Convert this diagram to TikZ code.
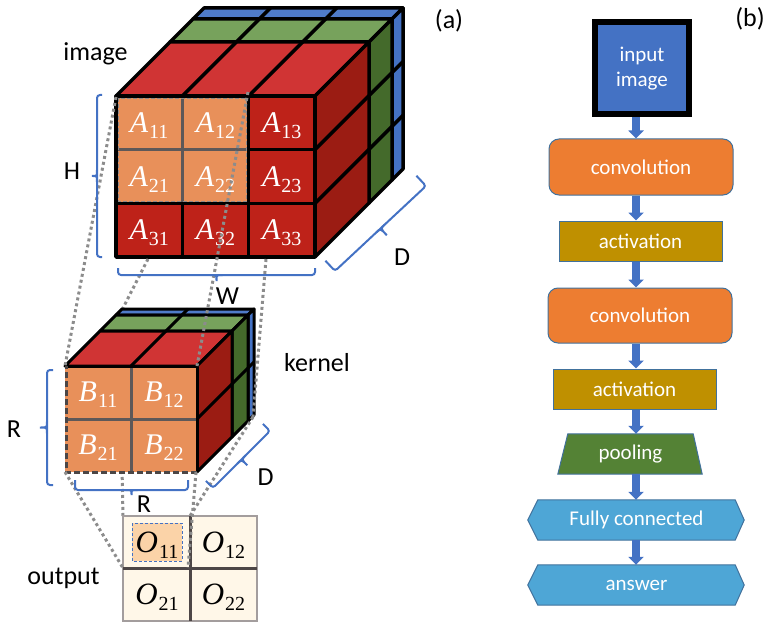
\documentclass[tikz,border=0pt]{standalone}
\usepackage{fontspec}
\setmainfont{Carlito}
\newfontfamily\symfont{Liberation Serif}
\usetikzlibrary{calc,arrows.meta}

\definecolor{redfront}{HTML}{BE2219}
\definecolor{redtop}{HTML}{D03434}
\definecolor{redside}{HTML}{9B1C13}
\definecolor{greentop}{HTML}{77A25C}
\definecolor{greenside}{HTML}{446A2B}
\definecolor{bluetop}{HTML}{4F7BC9}
\definecolor{blueside}{HTML}{4472C4}
\definecolor{cellorange}{HTML}{E8905A}
\definecolor{gridgrey}{HTML}{5E5858}
\definecolor{dotgrey}{HTML}{8C8C8C}
\definecolor{bracecol}{HTML}{4472C4}
\definecolor{outcell}{HTML}{FFF7E8}
\definecolor{outframe}{HTML}{A39D9D}
\definecolor{outrule}{HTML}{4D4646}
\definecolor{hilite}{HTML}{FBD3A8}
\definecolor{flowblue}{HTML}{4472C4}
\definecolor{convorange}{HTML}{ED7D31}
\definecolor{actgold}{HTML}{BF9000}
\definecolor{poolgreen}{HTML}{548235}
\definecolor{fcblue}{HTML}{4EA6D6}
\definecolor{shapeedge}{HTML}{41719C}

\pgfdeclarelayer{bg}
\pgfsetlayers{bg,main}

% italic cell symbol with an upright index
\newcommand\cellsym[2]{{\symfont\itshape #1}\kern1pt\raisebox{-6pt}{\symfont\fontsize{20}{21}\selectfont #2}}

% One depth layer of a box: top face and right face, with cell dividers.
% #1,#2 front top-left, #3,#4 front bottom-right, #5,#6 depth range,
% #7 divider fractions, #8 top colour, #9 side colour
\newcommand\slab[9]{%
  \filldraw[slabedge,fill=#8] ({#1+#5},{#2-#5}) -- ({#1+#6},{#2-#6}) -- ({#3+#6},{#2-#6}) -- ({#3+#5},{#2-#5}) -- cycle;
  \filldraw[slabedge,fill=#9] ({#3+#5},{#2-#5}) -- ({#3+#6},{#2-#6}) -- ({#3+#6},{#4-#6}) -- ({#3+#5},{#4-#5}) -- cycle;
  \foreach \fr in {#7}{%
    \draw[slabedge] ({#1+\fr*(#3-#1)+#5},{#2-#5}) -- ({#1+\fr*(#3-#1)+#6},{#2-#6});
    \draw[slabedge] ({#3+#5},{#2+\fr*(#4-#2)-#5}) -- ({#3+#6},{#2+\fr*(#4-#2)-#6});
  }%
}

% Square bracket with a middle tip: #1 name, #2 start, #3 end, #4 hook, #5 tip
\newcommand\officebrace[5]{%
  \coordinate (#1a) at #2;
  \coordinate (#1b) at #3;
  \coordinate (#1m) at ($(#1a)!0.5!(#1b)$);
  \draw[bracepen] ($(#1a)!#4!-90:(#1b)$) -- (#1a) -- (#1b) -- ($(#1b)!#4!90:(#1a)$);
  \draw[bracepen] ($(#1m)!6pt!(#1a)$) .. controls (#1m) .. ($(#1m)!#5!90:(#1b)$) .. controls (#1m) .. ($(#1m)!6pt!(#1b)$);
}

\tikzset{
  bracepen/.style={draw=bracecol, line width=2pt, rounded corners=3pt},
  dotline/.style={draw=dotgrey, line width=3pt, dash pattern=on 3pt off 3pt},
  lbl/.style={font=\fontsize{26}{30}\selectfont, inner sep=0pt, anchor=base},
  cellA/.style={text=white, font=\fontsize{30}{32}\selectfont, inner sep=0pt},
  cellO/.style={text=black, font=\fontsize{31}{32}\selectfont, inner sep=0pt},
  flowtext/.style={text=white, font=\fontsize{21}{25}\selectfont, align=center, inner sep=0pt},
  flowbox/.style={flowtext, draw=shapeedge, line width=1pt},
  flowarrow/.style={draw=flowblue, line width=8pt, -{Triangle[length=8pt,width=15pt]}},
}

\begin{document}
\begin{tikzpicture}[x=1pt,y=-1pt]
\useasboundingbox (0,0) rectangle (766,623);

% ---------------- image volume ----------------
\begin{scope}[slabedge/.style={draw=black, line width=3.5pt, line join=round}]
  \slab{116}{96}{315}{257}{77}{88}{0.3333,0.6667}{bluetop}{blueside}
  \slab{116}{96}{315}{257}{54}{77}{0.3333,0.6667}{greentop}{greenside}
  \slab{116}{96}{315}{257}{0}{54}{0.3333,0.6667}{redtop}{redside}
  \filldraw[slabedge, fill=redfront] (116,96) rectangle (315,257);
  \draw[slabedge] (182.3,96) -- (182.3,257) (248.7,96) -- (248.7,257)
                  (116,149.7) -- (315,149.7) (116,203.3) -- (315,203.3);
\end{scope}
% highlighted 2x2 window
\fill[cellorange] (118,98) rectangle (246.8,201.6);
\draw[gridgrey, line width=2.5pt] (182.3,98) -- (182.3,201.6) (118,149.7) -- (246.8,149.7);
\draw[gridgrey!70, line width=1.3pt, dash pattern=on 4pt off 2pt] (118.5,98.5) rectangle (246.8,201.6);

\node[cellA] (a11) at (149.2,125.5) {\cellsym{A}{11}};
\node[cellA] (a12) at (215.5,125.5) {\cellsym{A}{12}};
\node[cellA] (a13) at (281.8,125.5) {\cellsym{A}{13}};
\node[cellA] (a21) at (149.2,179.2) {\cellsym{A}{21}};
\node[cellA] (a22) at (215.5,179.2) {\cellsym{A}{22}};
\node[cellA] (a23) at (281.8,179.2) {\cellsym{A}{23}};
\node[cellA] (a31) at (149.2,232.8) {\cellsym{A}{31}};
\node[cellA] (a32) at (215.5,232.8) {\cellsym{A}{32}};
\node[cellA] (a33) at (281.8,232.8) {\cellsym{A}{33}};

% corner points used by the projection lines
\coordinate (iTL) at (116,97);
\coordinate (iTR) at (248,92);
\coordinate (iBL) at (148,259);
\coordinate (iBR) at (266,259);
\coordinate (kFTL) at (65,366);
\coordinate (kFTR) at (197,366);
\coordinate (kFBL) at (65,472);
\coordinate (kFBR) at (196,472);
\coordinate (kBTL) at (122,310);
\coordinate (kBBL) at (121,417);
\coordinate (kBBR) at (253,417);
\coordinate (oTL) at (123,516);
\coordinate (oTR) at (190,516);
\coordinate (oBL) at (123,568);
\coordinate (oBR) at (188,568);

% projection lines passing behind the kernel
\draw[dotline] (iBL) -- (kBTL);
\draw[dotline] (kBBL) -- (oTL);

% ---------------- kernel ----------------
\begin{scope}[slabedge/.style={draw=black, line width=3pt, line join=round}]
  \slab{65}{366}{197}{472}{51}{57}{0.5}{bluetop}{blueside}
  \slab{65}{366}{197}{472}{35}{51}{0.5}{greentop}{greenside}
  \slab{65}{366}{197}{472}{0}{35}{0.5}{redtop}{redside}
  \fill[cellorange] (65,366) rectangle (197,472);
  \draw[gridgrey, line width=3pt] (131,366) -- (131,472) (65,419) -- (197,419);
  \draw[slabedge] (65,366) -- (197,366) -- (197,472);
  \draw[draw=gridgrey!80!black, line width=3pt, dash pattern=on 6pt off 3pt] (197,472) -- (66.5,472) -- (66.5,366);
\end{scope}

\node[cellA] (b11) at (98,395) {\cellsym{B}{11}};
\node[cellA] (b12) at (164,395) {\cellsym{B}{12}};
\node[cellA] (b21) at (98,448) {\cellsym{B}{21}};
\node[cellA] (b22) at (164,448) {\cellsym{B}{22}};

% projection lines from the window onto the kernel
\draw[dotline] (iTL) -- (kFTL);
\draw[dotline] (iTR) -- (kFTR);
\draw[dotline] (iBR) -- (kBBR);

% ---------------- output map ----------------
\filldraw[fill=outcell, draw=outframe, line width=2.5pt] (123,516) rectangle (257,621);
\filldraw[fill=hilite, draw=bracecol, line width=1pt, dash pattern=on 3pt off 2pt] (132,523) rectangle (182,561);
\draw[outrule, line width=3pt] (190,516) -- (190,621) (123,568) -- (257,568);
\node[cellO] (o11) at (157,545) {\cellsym{O}{11}};
\node[cellO] (o12) at (223.5,545) {\cellsym{O}{12}};
\node[cellO] (o21) at (157,597) {\cellsym{O}{21}};
\node[cellO] (o22) at (223.5,597) {\cellsym{O}{22}};

% projection lines from the kernel onto the output cell
\draw[dotline] (kFBL) -- (oBL);
\draw[dotline] (kFBR) -- (oBR);
\draw[dotline] (kBBR) -- (oTR);

% ---------------- dimension brackets ----------------
\officebrace{hb}{(97,257)}{(97,95)}{5pt}{7pt}
\officebrace{wb}{(315,275)}{(118,275)}{7pt}{8pt}
\officebrace{db}{(426,186)}{(335,271)}{14pt}{11pt}
\officebrace{rl}{(47,485)}{(47,370)}{6pt}{9pt}
\officebrace{rb}{(188,490)}{(75,490)}{10pt}{7pt}
\officebrace{kd}{(270,431)}{(213,488)}{10pt}{10pt}

% ---------------- labels ----------------
\node[lbl] (imagelbl) at (95.5,61) {image};
\node[lbl] (kernellbl) at (317,371) {kernel};
\node[lbl] (outputlbl) at (63.5,584) {output};
\node[lbl] (hlbl) at (72,179) {H};
\node[lbl] (wlbl) at (227.5,304) {W};
\node[lbl] (dlbl) at (402,265) {D};
\node[lbl] (kdlbl) at (265.5,485) {D};
\node[lbl] (rllbl) at (14,437) {R};
\node[lbl] (rblbl) at (144,512) {R};
\node[lbl, anchor=center] (alabel) at (449,21) {(a)};
\node[lbl, anchor=center] (blabel) at (750,18.5) {(b)};

% ---------------- CNN pipeline ----------------
\node[flowtext, draw=black, line width=6pt, fill=flowblue, minimum width=94pt, minimum height=92pt] (inimg) at (642,68.5) {input\\image};
\node[flowbox, rounded corners=10pt, fill=convorange, minimum width=184pt, minimum height=56pt] (conv1) at (641,167) {convolution};
\node[flowbox, fill=actgold, minimum width=163pt, minimum height=40pt] (act1) at (640.5,241) {activation};
\node[flowbox, rounded corners=10pt, fill=convorange, minimum width=184pt, minimum height=55pt] (conv2) at (640,315.5) {convolution};
\node[flowbox, fill=actgold, minimum width=163pt, minimum height=40pt] (act2) at (634.5,389) {activation};
\node[flowtext, minimum width=125pt, minimum height=40pt] (pool) at (630.5,454) {pooling};
\node[flowtext, minimum width=197pt, minimum height=40pt] (fc) at (636.5,520) {Fully connected};
\node[flowtext, minimum width=197pt, minimum height=40pt] (ans) at (636.5,585) {answer};

\begin{pgfonlayer}{bg}
  \filldraw[fill=poolgreen, draw=shapeedge, line width=1pt]
    (pool.north west) -- (pool.north east) -- ([xshift=9pt]pool.south east) -- ([xshift=-10pt]pool.south west) -- cycle;
  \filldraw[fill=fcblue, draw=shapeedge, line width=1pt]
    ([xshift=-10pt]fc.west) -- (fc.north west) -- (fc.north east) -- ([xshift=9pt]fc.east) -- (fc.south east) -- (fc.south west) -- cycle;
  \filldraw[fill=fcblue, draw=shapeedge, line width=1pt]
    ([xshift=-10pt]ans.west) -- (ans.north west) -- (ans.north east) -- ([xshift=9pt]ans.east) -- (ans.south east) -- (ans.south west) -- cycle;
\end{pgfonlayer}

\coordinate (ax) at (636,0);
\draw[flowarrow] (inimg.south -| ax) -- (conv1.north -| ax);
\draw[flowarrow] (conv1.south -| ax) -- (act1.north -| ax);
\draw[flowarrow] (act1.south -| ax) -- (conv2.north -| ax);
\draw[flowarrow] (conv2.south -| ax) -- (act2.north -| ax);
\draw[flowarrow] (act2.south -| ax) -- (pool.north -| ax);
\draw[flowarrow] (pool.south -| ax) -- (fc.north -| ax);
\draw[flowarrow] (fc.south -| ax) -- (ans.north -| ax);
\end{tikzpicture}
\end{document}
